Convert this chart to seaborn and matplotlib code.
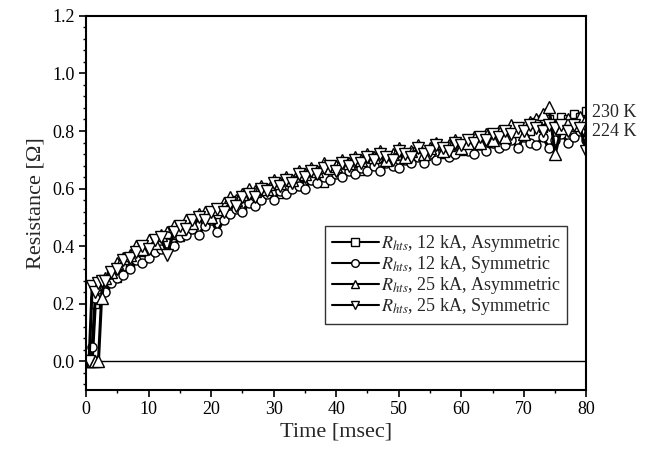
import numpy as np
import pandas as pd
import matplotlib
matplotlib.use("Agg")
import matplotlib.pyplot as plt
from matplotlib.ticker import MultipleLocator, AutoMinorLocator
import seaborn as sns

# ---- data ----
time_ms = [0, 0.5, 1, 1.5, 2, 2.5,
           3, 4, 5, 6, 7, 8, 9, 10, 11, 12,
           13, 14, 15, 16, 17, 18, 19, 20, 21, 22,
           23, 24, 25, 26, 27, 28, 29, 30, 31, 32,
           33, 34, 35, 36, 37, 38, 39, 40, 41, 42,
           43, 44, 45, 46, 47, 48, 49, 50, 51, 52,
           53, 54, 55, 56, 57, 58, 59, 60, 61, 62,
           63, 64, 65, 66, 67, 68, 69, 70, 71, 72,
           73, 74, 75, 76, 77, 78, 79, 80]

r_12ka_asym = [0, 0, 0, 0.20, 0.24, 0.25,
               .25, .30, .29, .33, .34, .36, .35, .40, .39, .41,
               .43, .44, .43, .47, .46, .50, .48, .49, .51, .53,
               .52, .56, .54, .56, .58, .57, .59, .61, .58, .61,
               .62, .61, .64, .63, .66, .62, .65, .67, .66, .67,
               .69, .66, .68, .70, .68, .71, .69, .70, .72, .70,
               .73, .71, .72, .75, .72, .74, .76, .73, .75, .77,
               .75, .78, .76, .77, .80, .78, .81, .79, .80, .83,
               .81, .84, .82, .85, .84, .86, .85, .87]

r_12ka_sym = [0, 0, 0.05, 0.22, 0.25, 0.26,
              .24, .27, .29, .30, .32, .35, .34, .36, .38, .39,
              .41, .40, .43, .44, .46, .44, .47, .49, .45, .49,
              .51, .53, .52, .55, .54, .56, .58, .56, .59, .58,
              .60, .61, .60, .63, .62, .64, .63, .65, .64, .66,
              .65, .67, .66, .68, .66, .69, .68, .67, .70, .69,
              .71, .69, .72, .70, .73, .71, .72, .74, .73, .72,
              .75, .73, .76, .74, .75, .77, .74, .78, .76, .75,
              .78, .74, .77, .79, .76, .78, .80, .77]

r_25ka_asym = [0, 0, 0, 0, 0, 0.22,
               .29, .31, .34, .36, .37, .40, .39, .42, .41, .44,
               .45, .47, .46, .49, .48, .51, .52, .50, .53, .55,
               .57, .56, .58, .60, .59, .61, .60, .63, .62, .64,
               .63, .66, .65, .67, .66, .69, .67, .68, .70, .69,
               .71, .70, .72, .71, .73, .70, .72, .74, .71, .73,
               .75, .72, .74, .76, .73, .75, .77, .74, .76, .78,
               .76, .79, .77, .80, .78, .82, .80, .79, .83, .84,
               .86, .885, .72, .81, .84, .82, .85, .84]

r_25ka_sym = [0, 0, 0.26, 0.24, 0.27, 0.28,
              .28, .31, .32, .35, .36, .38, .40, .39, .42, .43,
              .37, .45, .47, .46, .49, .50, .49, .52, .53, .52,
              .55, .54, .57, .58, .57, .60, .59, .62, .61, .63,
              .62, .65, .64, .66, .65, .67, .68, .66, .69, .68,
              .70, .69, .71, .70, .72, .71, .70, .73, .72, .71,
              .74, .72, .73, .75, .74, .73, .76, .75, .77, .76,
              .78, .77, .79, .78, .80, .79, .81, .80, .82, .81,
              .80, .82, .81, .82, .80, .82, .81, .73]

series_labels = [r"$R_{hts}$, 12 kA, Asymmetric",
                 r"$R_{hts}$, 12 kA, Symmetric",
                 r"$R_{hts}$, 25 kA, Asymmetric",
                 r"$R_{hts}$, 25 kA, Symmetric"]
series_values = [r_12ka_asym, r_12ka_sym, r_25ka_asym, r_25ka_sym]
series_markers = ["s", "o", "^", "v"]
series_msize = [6.0, 6.5, 8.0, 8.0]

temp_labels = ["230 K", "224 K"]
temp_label_y = [0.866, 0.797]

# ---- style ----
sns.set_theme(style="ticks")
plt.rcParams["font.family"] = ["Liberation Serif", "DejaVu Serif"]
plt.rcParams["mathtext.fontset"] = "stix"

fig = plt.figure(figsize=(6.56, 4.55), dpi=100)
ax = fig.add_axes([0.131, 0.143, 0.763, 0.822])

for vals, lab, mk, ms in zip(series_values, series_labels, series_markers,
                             series_msize):
    df = pd.DataFrame({"t": time_ms, "r": vals})
    sns.lineplot(data=df, x="t", y="r", ax=ax, color="black", lw=2.2,
                 marker=mk, markersize=ms,
                 markerfacecolor="white", markeredgecolor="black",
                 markeredgewidth=1.0, label=lab, sort=False)

ax.axhline(0, color="black", lw=1.0, zorder=0)

ax.set_xlim(0, 80)
ax.set_ylim(-0.1, 1.2)
ax.xaxis.set_major_locator(MultipleLocator(10))
ax.xaxis.set_minor_locator(AutoMinorLocator(2))
ax.set_yticks([0.0, 0.2, 0.4, 0.6, 0.8, 1.0, 1.2])
ax.set_yticklabels(["0.0", "0.2", "0.4", "0.6", "0.8", "1.0", "1.2"])
ax.yaxis.set_minor_locator(AutoMinorLocator(5))

for s in ax.spines.values():
    s.set_visible(True)
    s.set_color("black")
    s.set_linewidth(1.5)

ax.tick_params(axis="both", which="major", direction="out", length=5,
               width=1.2, colors="black", labelsize=13, pad=3)
ax.tick_params(axis="both", which="minor", direction="out", length=2.5,
               width=1.0, colors="black")
ax.tick_params(top=False, right=False, which="both")

ax.set_xlabel("Time [msec]", fontsize=16, labelpad=3)
ax.set_ylabel("Resistance [\u03a9]", fontsize=16, labelpad=5)

for lab, yv in zip(temp_labels, temp_label_y):
    ax.text(80.9, yv, lab, fontsize=13, va="center", ha="left",
            clip_on=False)

leg = ax.legend(loc="lower right", bbox_to_anchor=(0.962, 0.175),
                frameon=True, fancybox=False, edgecolor="black",
                fontsize=13, handlelength=2.6, handletextpad=0.1,
                labelspacing=0.0, borderpad=0.4, borderaxespad=0)
leg.get_frame().set_linewidth(1.0)
for h in leg.legend_handles:
    h.set_markersize(5.5)
    h.set_linewidth(1.5)

fig.savefig("out.png", dpi=100, facecolor="white")
